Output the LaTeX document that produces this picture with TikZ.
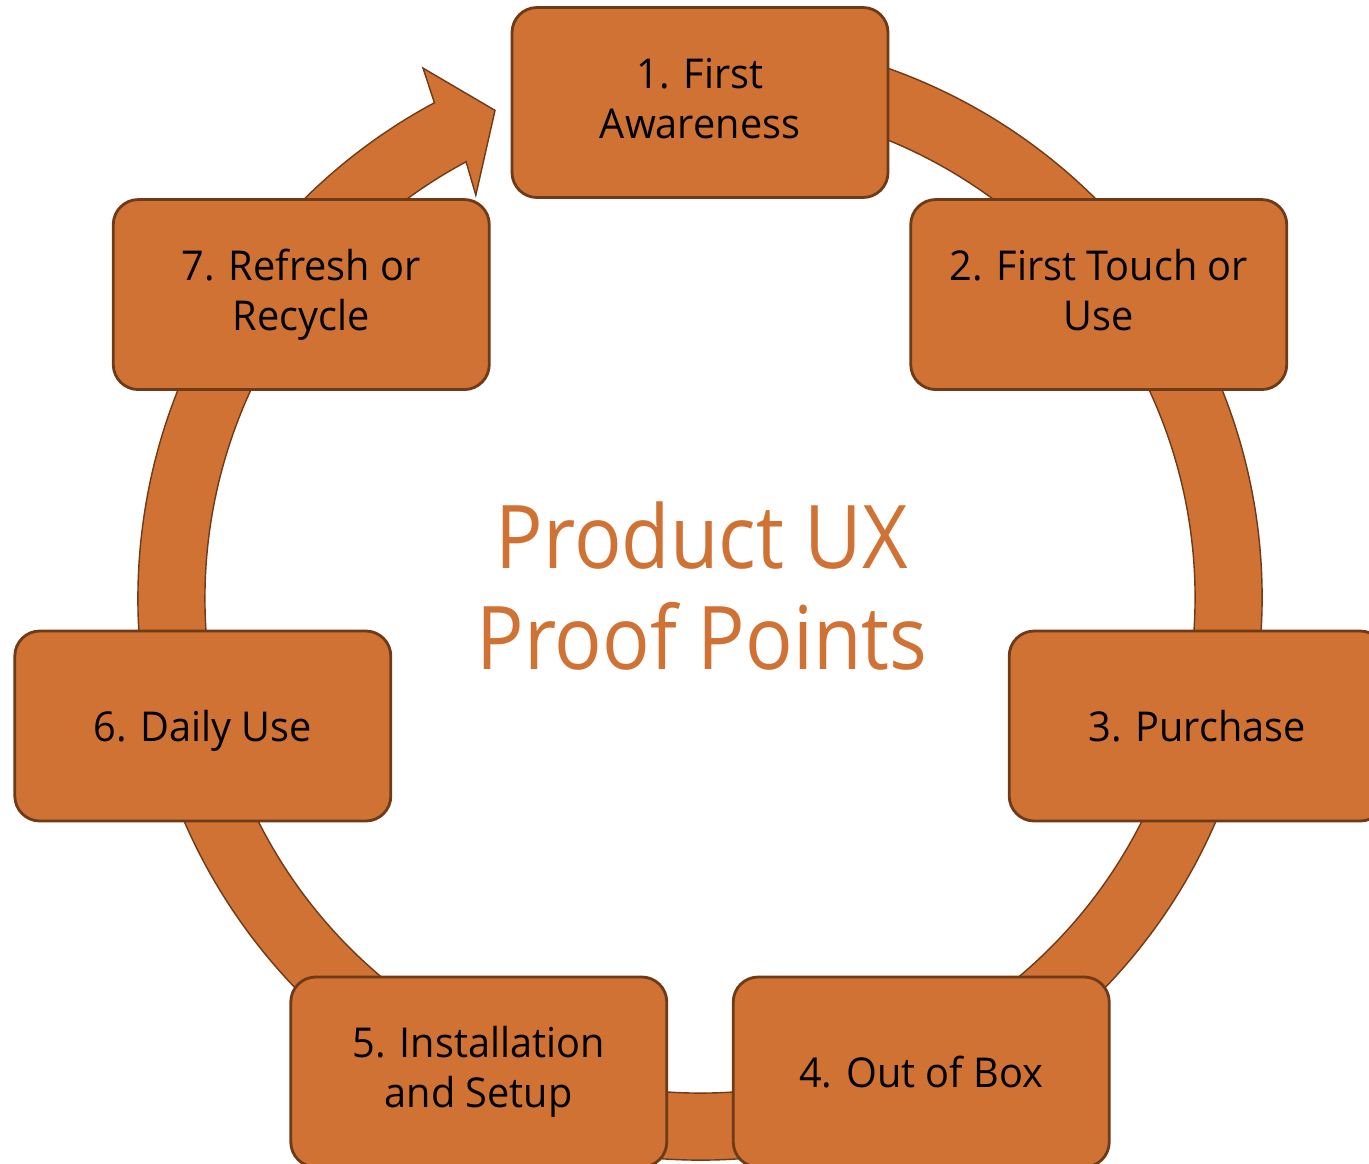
\documentclass[tikz,border=0pt]{standalone}
\usepackage{fontspec}
\setmainfont[FakeStretch=0.965]{Open Sans}
\newfontfamily\headfont[FakeStretch=0.9]{Open Sans}
\usetikzlibrary{calc}

\definecolor{uxfill}{HTML}{CF7234}
\definecolor{uxdraw}{HTML}{6E3A17}

\begin{document}
\begin{tikzpicture}
        \tikzstyle{stage}=[rectangle, rounded corners=0.25cm, minimum width=3.76cm, minimum height=1.9cm, inner sep=0, line width=0.8pt, draw=uxdraw, fill=uxfill, align=center, font=\fontsize{11.7pt}{14.2pt}\selectfont, execute at begin node=\lstrut, execute at end node=\lstrut]
        \tikzstyle{heading}=[align=center, text=uxfill, font=\headfont\fontsize{25pt}{28.7pt}\selectfont, execute at begin node=\lstrut, execute at end node=\lstrut]
        \tikzstyle{ring}=[draw=uxdraw, line width=0.4pt, fill=uxfill]

        \newcommand{\lstrut}{\rule[-0.18\baselineskip]{0pt}{\baselineskip}}
        \newcommand{\rin}{4.95}
        \newcommand{\rout}{5.62}
        \newcommand{\rbox}{5.1}

        \useasboundingbox (0,0) rectangle (13.69,-11.63);
        \clip (0,0) rectangle (13.69,-11.63);

        \coordinate (rc) at (7,-5.98);
        \coordinate (bc) at (7,-6.125);

        % the ring, open under box 1, head left of it
        \draw[ring] ($(rc)+(80:\rout)$) arc[start angle=80, end angle=-241.8, radius=\rout]
            -- ($(rc)+(117.6:5.98)$) -- ($(rc)+(112.8:5.29)$) -- ($(rc)+(119.1:4.61)$)
            -- ($(rc)+(118.2:\rin)$) arc[start angle=-241.8, end angle=80, radius=\rin] -- cycle;

        \node (p1) at ($(bc)+(90:\rbox)$) [stage] {1. First\\Awareness};
        \node (p2) at ($(bc)+(38.57:\rbox)$) [stage] {2. First Touch or\\Use};
        \node (p3) at ($(bc)+(-12.86:\rbox)$) [stage] {3. Purchase};
        \node (p4) at ($(bc)+(-64.29:\rbox)$) [stage] {4. Out of Box};
        \node (p5) at ($(bc)+(-115.71:\rbox)$) [stage] {5. Installation\\and Setup};
        \node (p6) at ($(bc)+(-167.14:\rbox)$) [stage] {6. Daily Use};
        \node (p7) at ($(bc)+(141.43:\rbox)$) [stage] {7. Refresh or\\Recycle};

        \node (head) at (7.02,-5.95) [heading] {Product UX\\Proof Points};
\end{tikzpicture}
\end{document}
